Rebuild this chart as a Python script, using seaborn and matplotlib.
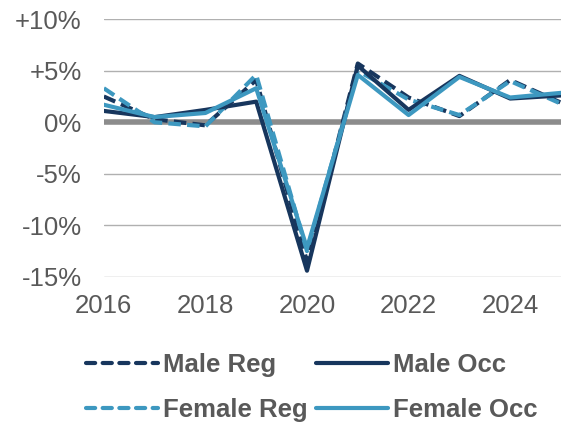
import pandas as pd
import matplotlib.pyplot as plt
import seaborn as sns
from matplotlib.lines import Line2D
from matplotlib.ticker import FuncFormatter

years = [2016, 2017, 2018, 2019, 2020, 2021, 2022, 2023, 2024, 2025]
male_reg = [2.5, 0.3, -0.3, 4.1, -13.5, 5.7, 2.4, 0.6, 4.1, 1.9]
male_occ = [1.1, 0.5, 1.2, 2.0, -14.4, 5.5, 1.2, 4.5, 2.3, 2.6]
female_reg = [3.3, 0.0, -0.4, 4.6, -12.5, 5.0, 2.2, 0.7, 4.0, 1.8]
female_occ = [1.7, 0.5, 0.9, 3.3, -12.2, 4.6, 0.7, 4.4, 2.4, 2.85]

DARK = '#17365d'
LIGHT = '#3d98c0'
TEXT = '#595959'
FS = 18.5


def set_plt_params():
    sns.set_style('white')
    plt.rcParams['font.family'] = ['Liberation Sans', 'DejaVu Sans']
    plt.rcParams['font.size'] = FS


def pct(v, _):
    if v > 0:
        return f'+{v:.0f}%'
    return f'{v:.0f}%'


def growth_plot():
    fig = plt.figure(figsize=(5.61, 4.26), dpi=100)
    ax = fig.add_axes([0.185, 0.35, 0.815, 0.605])

    df = pd.DataFrame({'year': years, 'Male Reg': male_reg, 'Male Occ': male_occ,
                       'Female Reg': female_reg, 'Female Occ': female_occ})
    series = [('Male Reg', DARK, (3, 1.5)), ('Female Reg', LIGHT, (3, 1.5)),
              ('Male Occ', DARK, None), ('Female Occ', LIGHT, None)]

    ax.axhline(0, color='#8c8c8c', lw=4, zorder=1)
    for name, color, dash in series:
        sns.lineplot(x='year', y=name, data=df, ax=ax, color=color, lw=3,
                     zorder=3, legend=False)
        if dash:
            ax.lines[-1].set_dashes(dash)

    ax.set_xlim(2016, 2025)
    ax.set_ylim(-15, 10)
    ax.set_xticks([2016, 2018, 2020, 2022, 2024])
    ax.set_yticks([-15, -10, -5, 0, 5, 10])
    ax.yaxis.set_major_formatter(FuncFormatter(pct))
    ax.grid(axis='y', color='#b0b0b0', lw=1, zorder=0)
    ax.set_axisbelow(True)
    for s in ax.spines.values():
        s.set_visible(False)
    ax.tick_params(length=0, labelsize=FS, colors=TEXT)
    ax.tick_params(axis='y', pad=16)
    ax.tick_params(axis='x', pad=12)
    ax.set_xlabel('')
    ax.set_ylabel('')

    handles = [Line2D([], [], color=c, lw=3, dashes=(2.2, 1.8) if d else (None, None),
                      solid_capstyle='round', dash_capstyle='round')
               for _, c, d in series]
    labels = [n for n, _, _ in series]
    fig.legend(handles, labels, ncol=2, loc='center',
               bbox_to_anchor=(0.556, 0.09), frameon=False, handlelength=2.8,
               handletextpad=0.2, columnspacing=0.3, labelspacing=0.8,
               prop={'weight': 'bold', 'size': FS}, labelcolor=TEXT)

    fig.savefig('out.png', dpi=100)


if __name__ == '__main__':
    set_plt_params()
    growth_plot()
